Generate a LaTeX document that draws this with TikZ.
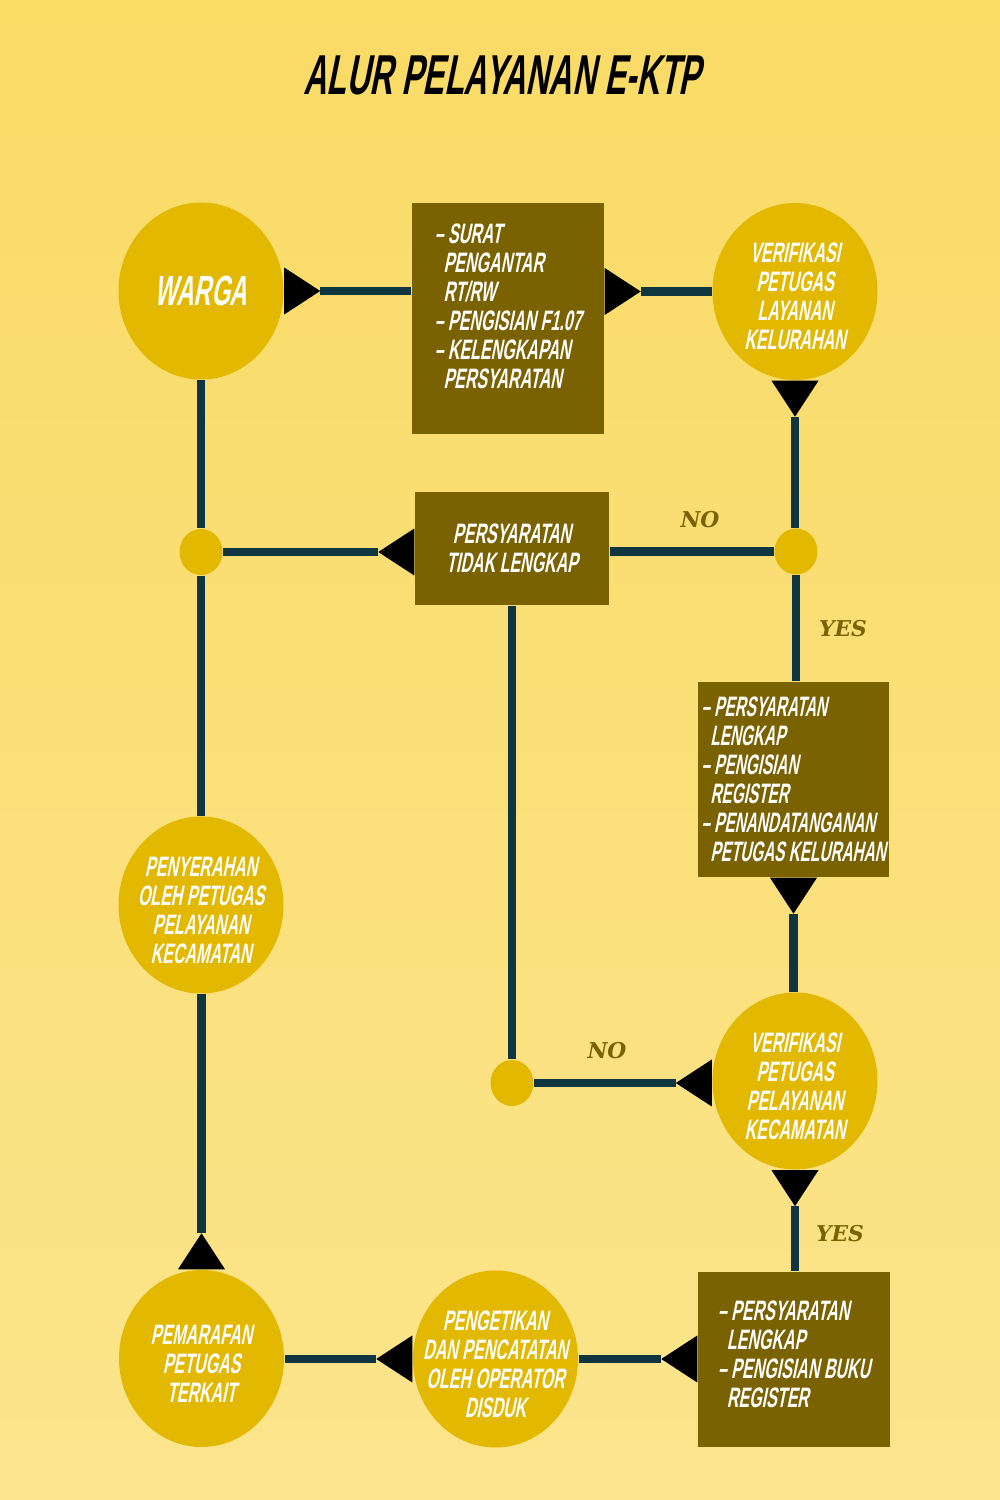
\documentclass[tikz,border=0pt]{standalone}
\usepackage{fontspec}
\usetikzlibrary{arrows.meta,shapes.geometric}
\newfontfamily\dispfont{Liberation Sans}[FakeStretch=0.57,FakeSlant=0.2]
\newfontfamily\narrowfont{Liberation Sans}[FakeStretch=0.545,FakeSlant=0.2]
\newfontfamily\labfont{DejaVu Serif}
\definecolor{bgtop}{HTML}{FADB66}
\definecolor{bgbot}{HTML}{FBE48C}
\definecolor{disc}{HTML}{E2B800}
\definecolor{boxc}{HTML}{7A6200}
\definecolor{linec}{HTML}{0E3540}
\newcommand{\ind}{\hspace*{0.09cm}}
\newcommand{\dash}{\textendash\ }
\newcommand{\lift}[1]{\rule[-#1]{0pt}{#1}}
\newcommand{\drop}{\rule{0pt}{0.3cm}}
\newcommand{\nodefont}{\dispfont\bfseries\fontsize{8}{8.25}\selectfont}

\begin{document}
\begin{tikzpicture}[
  proc/.style={ellipse,fill=disc,inner sep=-0.3cm,minimum width=1.65cm,minimum height=1.77cm,text=white,align=center,font=\nodefont},
  doc/.style={rectangle,fill=boxc,inner sep=0pt,text=white,align=left,font=\nodefont},
  dot/.style={ellipse,fill=disc,inner sep=0pt,minimum width=0.43cm,minimum height=0.46cm},
  link/.style={draw=linec,line width=2.3pt},
  flow/.style={link,arrows={Triangle[reversed,length=0.36cm,width=0.47cm,color=black,line width=0pt]-}},
  answer/.style={text=boxc,font=\labfont\bfseries\itshape\fontsize{6.2}{7}\selectfont}
]
\useasboundingbox (0,0) rectangle (10,15);
\shade[top color=bgtop,bottom color=bgbot] (0,0) rectangle (10,15);

\node[font=\dispfont\bfseries\fontsize{16}{18}\selectfont] (judul) at (5.02,14.25) {ALUR PELAYANAN E-KTP};

\node[proc,font=\dispfont\bfseries\fontsize{12}{13}\selectfont] (warga) at (2.01,12.09) {\drop WARGA};
\node[doc,minimum width=1.92cm,minimum height=2.31cm] (syarat) at (5.08,11.815)
  {\dash SURAT\\\ind PENGANTAR\\\ind RT/RW\\\dash PENGISIAN F1.07\\\dash KELENGKAPAN\\\ind PERSYARATAN\lift{0.25cm}};
\node[proc] (verkel) at (7.95,12.085) {\drop VERIFIKASI\\PETUGAS\\LAYANAN\\KELURAHAN};
\node[dot] (cabkel) at (7.96,9.485) {};
\node[doc,align=center,minimum width=1.94cm,minimum height=1.13cm] (tolak) at (5.12,9.515)
  {PERSYARATAN\\TIDAK LENGKAP};
\node[dot] (gabung) at (2.01,9.48) {};
\node[doc,minimum width=1.91cm,minimum height=1.95cm,font=\narrowfont\bfseries\fontsize{8}{8.25}\selectfont] (lengkap) at (7.935,7.205)
  {\dash PERSYARATAN\\\ind LENGKAP\\\dash PENGISIAN\\\ind REGISTER\\\dash PENANDATANGANAN\\\ind PETUGAS KELURAHAN};
\node[proc] (verkec) at (7.95,4.19) {\drop VERIFIKASI\\PETUGAS\\PELAYANAN\\KECAMATAN};
\node[dot] (cabkec) at (5.12,4.17) {};
\node[doc,minimum width=1.92cm,minimum height=1.75cm] (buku) at (7.94,1.405)
  {\dash PERSYARATAN\\\ind LENGKAP\\\dash PENGISIAN BUKU\\\ind REGISTER\lift{0.11cm}};
\node[proc] (ketik) at (4.955,1.41) {\drop PENGETIKAN\\DAN PENCATATAN\\OLEH OPERATOR\\DISDUK};
\node[proc] (paraf) at (2.015,1.415) {\drop PEMARAFAN\\PETUGAS\\TERKAIT};
\node[proc] (serah) at (2.01,5.95) {\drop PENYERAHAN\\OLEH PETUGAS\\PELAYANAN\\KECAMATAN};

\draw[flow] (warga.east) -- (warga.east -| syarat.west);
\draw[flow] (syarat.east |- verkel.west) -- (verkel.west);
\draw[flow] (verkel.south) -- (verkel.south |- cabkel.north);
\draw[link] (cabkel.west) -- (cabkel.west -| tolak.east);
\draw[flow] (tolak.west |- gabung) -- (gabung.east);
\draw[link] (warga.south) -- (warga.south |- gabung.north);
\draw[link] (gabung.south) -- (gabung.south |- serah.north);
\draw[link] (cabkel.south) -- (cabkel.south |- lengkap.north);
\draw[flow] (lengkap.south) -- (lengkap.south |- verkec.north);
\draw[link] (tolak.south) -- (cabkec.north);
\draw[flow] (verkec.west |- cabkec) -- (cabkec.east);
\draw[flow] (verkec.south) -- (verkec.south |- buku.north);
\draw[flow] (buku.west |- ketik) -- (ketik.east);
\draw[flow] (ketik.west) -- (ketik.west -| paraf.east);
\draw[flow] (paraf.north) -- (paraf.north |- serah.south);

\node[answer] (no1) at (7.00,9.80) {NO};
\node[answer] (yes1) at (8.43,8.71) {YES};
\node[answer] (no2) at (6.07,4.49) {NO};
\node[answer] (yes2) at (8.40,2.66) {YES};
\end{tikzpicture}
\end{document}
